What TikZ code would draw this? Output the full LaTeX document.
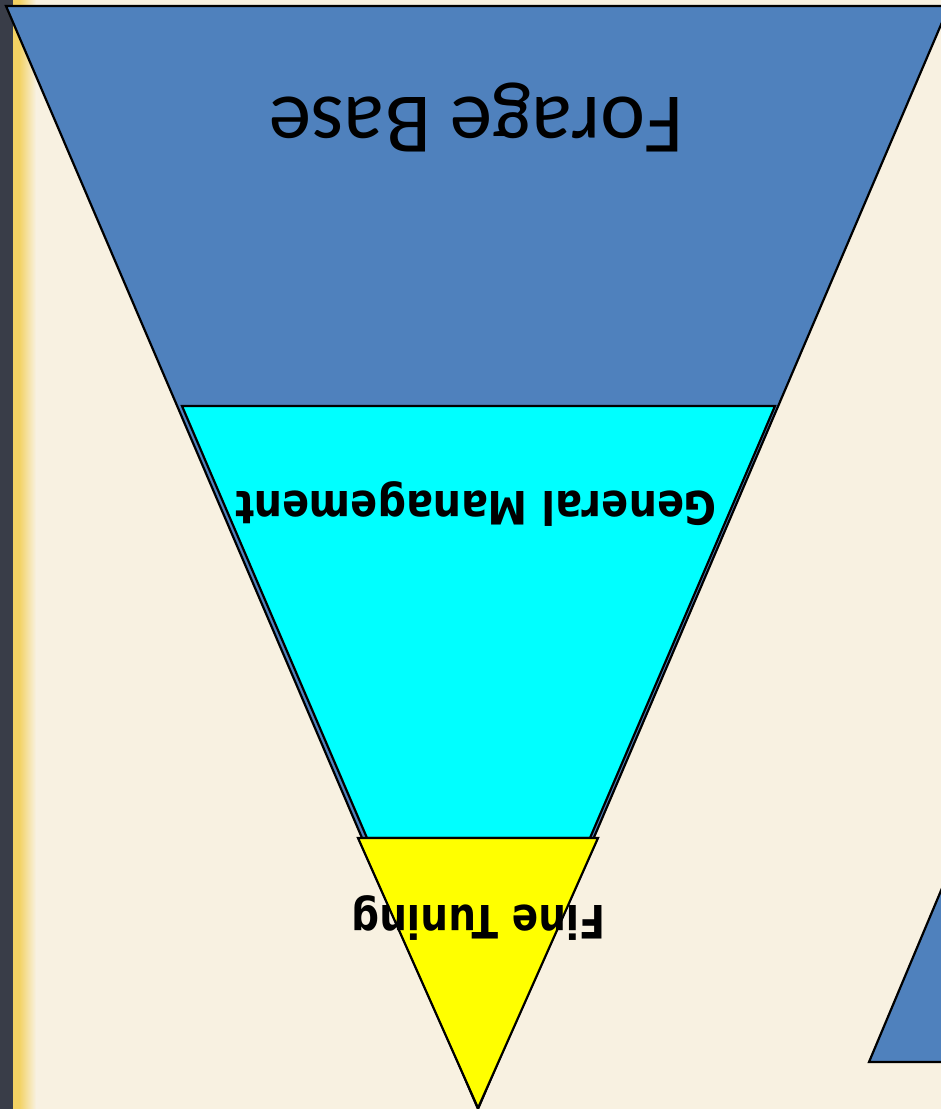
\documentclass[tikz,border=0pt]{standalone}
\usepackage{fontspec}
\newfontfamily\calibrifont{Carlito}
\newfontfamily\boldsans{DejaVu Sans}
\definecolor{cream}{HTML}{F8F1E1}
\definecolor{slideblue}{HTML}{4F81BD}
\definecolor{stripdark}{HTML}{393D48}
\definecolor{stripyellow}{HTML}{F3D263}
\definecolor{brightcyan}{HTML}{00FFFF}
\definecolor{brightyellow}{HTML}{FFFF00}
\tikzset{
  layer/.style={draw=black, line width=2.2pt, line join=miter},
  label/.style={rotate=180, anchor=base, inner sep=0pt, text=black},
}
\begin{document}
\begin{tikzpicture}[x=1pt, y=-1pt]
\useasboundingbox (0,0) rectangle (941,1109);
\begin{scope}
\clip (0,0) rectangle (941,1109);
% background
\fill[cream] (0,0) rectangle (941,1109);
% left strip
\fill[stripdark] (0,0) rectangle (13,1109);
\fill[stripyellow] (13,0) rectangle (19,1109);
\shade[left color=stripyellow, right color=cream] (19,0) rectangle (36,1109);
% big blue triangle
\filldraw[layer, fill=slideblue] (6,6) -- (949,6) -- (478,1109) -- cycle;
% cyan trapezoid
\filldraw[layer, fill=brightcyan] (182,406) -- (775,406) -- (590,838) -- (367,838) -- cycle;
% yellow triangle
\filldraw[layer, fill=brightyellow] (358,838) -- (598,838) -- (478,1108) -- cycle;
% bottom-right blue triangle
\filldraw[layer, fill=slideblue] (869,1062) -- (995,762) -- (1120,1062) -- cycle;
\end{scope}
% labels
\node[label, font=\calibrifont\fontsize{85}{90}\selectfont] (forage) at (476,97) {Forage Base};
\node[label, font=\boldsans\bfseries\fontsize{46}{50}\selectfont] (general) at (476,491) {\scalebox{0.865}[1]{General Management}};
\node[label, font=\boldsans\bfseries\fontsize{46}{50}\selectfont] (fine) at (479,905) {\scalebox{0.845}[1]{Fine Tuning}};
\end{tikzpicture}
\end{document}
